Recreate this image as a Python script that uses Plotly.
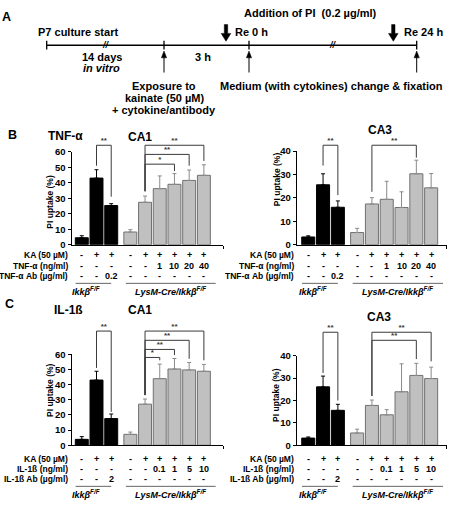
import plotly.graph_objects as go

W, H = 451, 507
AR = "Liberation Sans, Arial, sans-serif"

# ---------------- data ----------------
bar_pos = [0, 1, 2, 3.3, 4.3, 5.3, 6.3, 7.3, 8.3]
n_ctrl = 3  # first three bars: Ikkβ F/F (black)

tnf_ca1 = [4.5, 43.0, 25.3, 8.2, 27.4, 36.2, 39.0, 41.5, 44.8]
tnf_ca1_err = [1.3, 5.4, 1.2, 1.5, 4.0, 8.2, 6.9, 6.7, 6.8]
tnf_ca3 = [3.3, 25.6, 16.0, 5.2, 17.4, 19.4, 15.9, 30.3, 24.3]
tnf_ca3_err = [0.5, 4.7, 2.7, 1.8, 2.7, 7.7, 6.7, 5.8, 6.1]
il_ca1 = [3.9, 43.0, 17.6, 7.2, 27.1, 43.9, 50.3, 49.7, 48.8]
il_ca1_err = [1.8, 5.8, 3.0, 1.5, 3.4, 9.6, 6.9, 4.9, 4.5]
il_ca3 = [3.2, 26.1, 15.6, 5.5, 17.8, 13.6, 23.9, 31.2, 29.8]
il_ca3_err = [0.5, 4.8, 2.7, 1.7, 2.4, 2.3, 12.5, 5.4, 5.1]

ka_row = ["-", "+", "+", "-", "+", "+", "+", "+", "+"]
tnf_row = ["-", "-", "-", "-", "-", "1", "10", "20", "40"]
tnf_ab_row = ["-", "-", "0.2", "-", "-", "-", "-", "-", "-"]
il_row = ["-", "-", "-", "-", "-", "0.1", "1", "5", "10"]
il_ab_row = ["-", "-", "2", "-", "-", "-", "-", "-", "-"]

tnf_row_labels = ["KA (50 µM)", "TNF-α (ng/ml)", "TNF-α Ab (µg/ml)"]
il_row_labels = ["KA (50 µM)", "IL-1ß (ng/ml)", "IL-1ß Ab (µg/ml)"]
genotypes = ["<i>Ikkβ<sup>F/F</sup></i>", "<i>LysM-Cre/Ikkβ<sup>F/F</sup></i>"]

# significance brackets: (bar i, bar j, label)
tnf_ca1_sig = [(1, 2, "**"), (4, 8, "**"), (4, 7, "**"), (4, 6, "*")]
tnf_ca3_sig = [(1, 2, "**"), (4, 7, "**")]
il_ca1_sig = [(1, 2, "**"), (4, 8, "**"), (4, 7, "**"), (4, 6, "**"), (4, 5, "*")]
il_ca3_sig = [(1, 2, "**"), (4, 8, "**"), (4, 7, "**")]

# ---------------- geometry ----------------
# bracket geometry: (line level, drop end at i, drop end at j) in axis units
tnf_ca1_brk = [(64.2, 51.0, 31.0), (64.2, 34.5, 54.1), (58.3, 34.5, 51.0), (52.0, 34.5, 47.5)]
tnf_ca3_brk = [(42.5, 33.8, 21.2), (42.5, 22.6, 37.2)]
il_ca1_brk = [(75.3, 51.0, 22.0), (75.3, 33.1, 56.0), (69.2, 33.1, 57.0), (63.2, 33.1, 59.5), (57.9, 33.1, 56.0)]
il_ca3_brk = [(50.5, 32.3, 20.0), (50.5, 22.0, 37.5), (46.9, 22.0, 38.5)]

panels = [
    dict(v=tnf_ca1, e=tnf_ca1_err, ymax=60, xd=(71.5, 223.0), yd=(149, 244), xr=(-0.70, 9.6),
         sig=tnf_ca1_sig, brk=tnf_ca1_brk, yt=(50, 200),
         rows=[ka_row, tnf_row, tnf_ab_row], rl=tnf_row_labels, rlx=70,
         ry=[255, 265.5, 276], uy=283.5, gy=291),
    dict(v=tnf_ca3, e=tnf_ca3_err, ymax=40, xd=(296.7, 446.7), yd=(148.3, 244), xr=(-0.78, 9.35),
         sig=tnf_ca3_sig, brk=tnf_ca3_brk, yt=(277, 177),
         rows=[ka_row, tnf_row, tnf_ab_row], rl=tnf_row_labels, rlx=296,
         ry=[255, 265.5, 276], uy=283.5, gy=291),
    dict(v=il_ca1, e=il_ca1_err, ymax=60, xd=(71.5, 223.0), yd=(356, 449), xr=(-0.70, 9.6),
         sig=il_ca1_sig, brk=il_ca1_brk, yt=(50, 392.5),
         rows=[ka_row, il_row, il_ab_row], rl=il_row_labels, rlx=70,
         ry=[463, 473.5, 484], uy=491, gy=498.5),
    dict(v=il_ca3, e=il_ca3_err, ymax=40, xd=(296.7, 446.7), yd=(357.5, 449), xr=(-0.78, 9.35),
         sig=il_ca3_sig, brk=il_ca3_brk, yt=(276, 397.5),
         rows=[ka_row, il_row, il_ab_row], rl=il_row_labels, rlx=296,
         ry=[463, 473.5, 484], uy=491, gy=498.5),
]
underline_spans = [(-0.42, 2.0), (3.0, 9.1)]
genotype_x = [0.3, 6.0]
BRK_EXT = 45  # px of extra headroom for the (invisible) bracket axes


def px(x):
    return x / W


def py(y):
    return 1 - y / H


def F(size, italic=False, color="black", family=AR):
    d = dict(family=family, size=size, color=color, weight="bold")
    if italic:
        d["style"] = "italic"
    return d


fig = go.Figure()
annotations = []
shapes = []


def ann(text, x, y, size=11, xanchor="center", yanchor="middle", italic=False,
        angle=0, xref="paper", yref="paper"):
    if xref == "paper":
        x = px(x)
    if yref == "paper":
        y = py(y)
    annotations.append(dict(text=text, x=x, y=y, xref=xref, yref=yref, showarrow=False,
                            xanchor=xanchor, yanchor=yanchor, font=F(size, italic),
                            textangle=angle))


layout_axes = {}
for k, p in enumerate(panels, start=1):
    xa, ya = f"x{k}", f"y{k}"
    kb = k + 4
    yb = f"y{kb}"
    xn = "xaxis" if k == 1 else f"xaxis{k}"
    yn = "yaxis" if k == 1 else f"yaxis{k}"
    layout_axes[xn] = dict(domain=[px(p["xd"][0]), px(p["xd"][1])], range=list(p["xr"]),
                           anchor=ya, showline=True, linecolor="black", linewidth=1,
                           ticks="outside", tickvals=[p["xr"][1]], ticklen=3, tickcolor="black",
                           showticklabels=False, showgrid=False, zeroline=False, fixedrange=True)
    layout_axes[yn] = dict(domain=[py(p["yd"][1]), py(p["yd"][0])], range=[0, p["ymax"]],
                           anchor=xa, showline=True, linecolor="black", linewidth=1,
                           ticks="outside", ticklen=3, tickcolor="black", dtick=10, tick0=0,
                           tickfont=F(9.5), showgrid=False, zeroline=False, fixedrange=True)
    # invisible axis with same scale but extra headroom, for the significance brackets
    top = p["yd"][0] - BRK_EXT
    layout_axes[f"yaxis{kb}"] = dict(domain=[py(p["yd"][1]), py(top)],
                                     range=[0, p["ymax"] * (p["yd"][1] - top) / (p["yd"][1] - p["yd"][0])],
                                     anchor=xa, visible=False, fixedrange=True)
    # bars
    groups = [(slice(0, n_ctrl), "black", "black", "black"),
              (slice(n_ctrl, None), "#c0c0c0", "#707070", "#8a8a8a")]
    for sl, fill, edge, ecol in groups:
        xs = bar_pos[sl]
        vs = p["v"][sl]
        es = p["e"][sl]
        fig.add_trace(go.Bar(x=xs, y=vs, width=0.88, xaxis=xa, yaxis=ya,
                             marker=dict(color=fill, line=dict(color=edge, width=1)),
                             error_y=dict(type="data", array=es, arrayminus=[0] * len(es),
                                          symmetric=False, color=ecol, thickness=1, width=2),
                             showlegend=False, hoverinfo="skip"))
    # significance brackets
    for (i, j, lab), (lv, di, dj) in zip(p["sig"], p["brk"]):
        xi, xj = bar_pos[i], bar_pos[j]
        fig.add_trace(go.Scatter(x=[xi, xi, xj, xj], y=[di, lv, lv, dj], mode="lines",
                                 line=dict(color="#3a3a3a", width=1), cliponaxis=False,
                                 xaxis=xa, yaxis=yb, showlegend=False, hoverinfo="skip"))
        fig.add_trace(go.Scatter(x=[(xi + xj) / 2], y=[lv], mode="text", text=[lab],
                                 textposition="top center", textfont=F(8, color="#3a3a3a"),
                                 cliponaxis=False, xaxis=xa, yaxis=yb,
                                 showlegend=False, hoverinfo="skip"))
    # y title
    ann("PI uptake (%)", p["yt"][0], p["yt"][1], size=8.5, angle=-90)
    # condition table
    for r, (row, lab) in enumerate(zip(p["rows"], p["rl"])):
        ann(lab, p["rlx"], p["ry"][r], size=8.5, xanchor="right")
        for b, val in enumerate(row):
            ann(val, bar_pos[b], p["ry"][r], size=9, xref=xa)
    for (a, b) in underline_spans:
        shapes.append(dict(type="line", xref=xa, yref="paper", x0=a, x1=b,
                           y0=py(p["uy"]), y1=py(p["uy"]), line=dict(color="#666", width=1)))
    for g, gx in zip(genotypes, genotype_x):
        ann(g, gx, p["gy"], size=9, xref=xa)

# ---------------- panel titles ----------------
ann("A", 6, 11, size=12.5)
ann("B", 12, 132, size=12.5)
ann("TNF-α", 65, 133, size=12)
ann("CA1", 140, 134, size=12)
ann("CA3", 380, 127, size=12)
ann("C", 9, 305, size=12.5)
ann("IL-1ß", 68, 310.5, size=12)
ann("CA1", 140, 310.5, size=12)
ann("CA3", 378.5, 318, size=12)


# ---------------- panel A: timeline diagram ----------------
def P(x, y):
    return f"{px(x):.5f},{py(y):.5f}"


line_y = 40
t_x = [46.7, 164, 249, 416.7]
shapes.append(dict(type="line", xref="paper", yref="paper", x0=px(t_x[0]), x1=px(t_x[-1]),
                   y0=py(line_y), y1=py(line_y), line=dict(color="black", width=1.5)))
for tx in t_x:
    shapes.append(dict(type="line", xref="paper", yref="paper", x0=px(tx), x1=px(tx),
                       y0=py(line_y - 4.5), y1=py(line_y + 4.5), line=dict(color="black", width=1.3)))
for cx in [226, 393.3]:
    path = ("M " + P(cx - 1.7, 19) + " L " + P(cx + 1.7, 19) + " L " + P(cx + 1.7, 28) +
            " L " + P(cx + 4.8, 28) + " L " + P(cx, 36) + " L " + P(cx - 4.8, 28) +
            " L " + P(cx - 1.7, 28) + " Z")
    shapes.append(dict(type="path", xref="paper", yref="paper", path=path,
                       fillcolor="black", line=dict(color="black", width=0.5)))
for cx in t_x[1:]:
    shapes.append(dict(type="line", xref="paper", yref="paper", x0=px(cx), x1=px(cx),
                       y0=py(68), y1=py(51), line=dict(color="black", width=1)))
    path = "M " + P(cx, 46) + " L " + P(cx + 2.6, 53) + " L " + P(cx - 2.6, 53) + " Z"
    shapes.append(dict(type="path", xref="paper", yref="paper", path=path,
                       fillcolor="black", line=dict(color="black", width=0.5)))

ann("//", 106, 39.5, size=9, italic=True)
ann("//", 333.3, 39.5, size=9, italic=True)
ann("Addition of PI  (0.2 µg/ml)", 310, 7.5, size=11)
ann("P7 culture start", 78, 27, size=11)
ann("Re 0 h", 251.7, 27, size=11)
ann("Re 24 h", 423.3, 27, size=11)
ann("14 days", 101.7, 52, size=11)
ann("in vitro", 101.7, 63.5, size=11, italic=True)
ann("3 h", 202.5, 52, size=11)
ann("Exposure to", 164, 82, size=11)
ann("kainate (50 µM)", 164, 94, size=11)
ann("+ cytokine/antibody", 164, 106, size=11)
ann("Medium (with cytokines) change & fixation", 331.7, 82, size=11)

fig.update_layout(width=W, height=H, margin=dict(l=0, r=0, t=0, b=0), autosize=False,
                  plot_bgcolor="rgba(0,0,0,0)", paper_bgcolor="white", showlegend=False,
                  barmode="overlay", annotations=annotations, shapes=shapes, **layout_axes)
fig.write_html("out.html", config={"displayModeBar": False, "staticPlot": True},
               post_script="document.body.style.margin='0px';")
